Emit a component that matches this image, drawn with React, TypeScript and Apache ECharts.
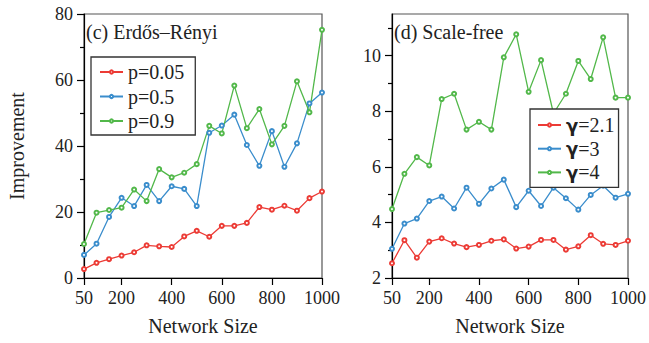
import React, { useEffect, useRef } from "react";
import * as echarts from "echarts";

const sizes = [50, 100, 150, 200, 250, 300, 350, 400, 450, 500, 550, 600, 650, 700, 750, 800, 850, 900, 950, 1000];

const erP005 = [2.7, 4.6, 5.7, 6.8, 7.8, 9.9, 9.6, 9.4, 12.6, 14.3, 12.5, 15.8, 15.8, 16.7, 21.5, 20.7, 21.9, 20.4, 24.2, 26.2];
const erP05 = [7.0, 10.4, 18.5, 24.3, 21.8, 28.2, 23.3, 27.8, 27.0, 21.8, 44.0, 46.2, 49.5, 40.3, 34.0, 44.5, 33.7, 40.8, 52.9, 56.2];
const erP09 = [10.3, 19.8, 20.6, 21.3, 26.8, 23.3, 33.0, 30.5, 31.9, 34.5, 46.1, 43.8, 58.3, 45.4, 51.2, 40.5, 46.1, 59.6, 50.2, 75.2];

const sfG21 = [2.53, 3.36, 2.73, 3.31, 3.43, 3.24, 3.11, 3.19, 3.34, 3.39, 3.06, 3.13, 3.37, 3.37, 3.02, 3.14, 3.54, 3.23, 3.19, 3.34];
const sfG3 = [3.05, 3.96, 4.14, 4.77, 4.93, 4.5, 5.25, 4.67, 5.22, 5.54, 4.55, 5.14, 4.59, 5.25, 4.87, 4.46, 4.99, 5.32, 4.89, 5.03];
const sfG4 = [4.48, 5.75, 6.35, 6.05, 8.44, 8.63, 7.34, 7.62, 7.34, 9.94, 10.77, 8.7, 9.84, 7.92, 8.63, 9.81, 9.16, 10.66, 8.49, 8.49];

const xTicks = [50, 200, 400, 600, 800, 1000];
const erYTicks = [0, 20, 40, 60, 80];
const erYMinor = [10, 30, 50, 70];
const sfYTicks = [2, 4, 6, 8, 10];
const sfYMinor = [3, 5, 7, 9, 11];

const erNames = ["p=0.05", "p=0.5", "p=0.9"];
const sfNames = ["γ=2.1", "γ=3", "γ=4"];

const RED = "#ec3b35";
const BLUE = "#3a8dcc";
const GREEN = "#52b84a";
const SERIF = "Liberation Serif";

const pairs = (vals: number[]) => sizes.map((s, i) => [s, vals[i]]);

export default function App() {
  const ref = useRef<HTMLDivElement>(null);
  useEffect(() => {
    if (!ref.current) return;
    const chart = echarts.init(ref.current, null, { renderer: "svg" });

    const xAxisBase = (gridIndex: number) => ({
      type: "value",
      gridIndex,
      position: "bottom",
      min: 50,
      max: 1000,
      interval: 50,
      splitLine: { show: false },
      axisLine: { show: true, lineStyle: { color: "#000", width: 1.2 } },
      axisTick: { show: true, customValues: xTicks, length: 7, lineStyle: { color: "#000", width: 1.2 } },
      axisLabel: { customValues: xTicks, margin: 11, fontFamily: SERIF, fontSize: 18, color: "#222", formatter: (v: number) => String(v) },
      name: "Network Size",
      nameLocation: "middle",
      nameGap: 38,
      nameTextStyle: { fontFamily: SERIF, fontSize: 20, color: "#222" },
    });

    const yMain = (gridIndex: number, min: number, max: number, ticks: number[], name?: string) => ({
      type: "value",
      gridIndex,
      position: "left",
      min,
      max,
      splitLine: { show: false },
      axisLine: { show: true, lineStyle: { color: "#000", width: 1.2 } },
      axisTick: { show: true, customValues: ticks, length: 7, lineStyle: { color: "#000", width: 1.2 } },
      axisLabel: { customValues: ticks, margin: 11, fontFamily: SERIF, fontSize: 18, color: "#222", formatter: (v: number) => String(v) },
      name: name ?? "",
      nameLocation: "middle",
      nameGap: 57,
      nameTextStyle: { fontFamily: SERIF, fontSize: 20, color: "#222" },
    });

    const yMinor = (gridIndex: number, min: number, max: number, ticks: number[]) => ({
      type: "value",
      gridIndex,
      position: "left",
      offset: 0,
      min,
      max,
      splitLine: { show: false },
      axisLine: { show: false },
      axisTick: { show: true, customValues: ticks, length: 4, lineStyle: { color: "#000", width: 1.2 } },
      axisLabel: { show: false },
    });

    const line = (name: string, color: string, vals: number[], xi: number, yi: number) => ({
      type: "line",
      name,
      xAxisIndex: xi,
      yAxisIndex: yi,
      data: pairs(vals),
      symbol: "emptyCircle",
      symbolSize: 4,
      lineStyle: { color, width: 1.3 },
      itemStyle: { color, borderColor: color, borderWidth: 1 },
    });

    const legendBase = {
      orient: "vertical",
      backgroundColor: "#fff",
      borderColor: "#333",
      borderWidth: 1.3,
      borderRadius: 0,
      itemWidth: 23,
      itemHeight: 4,
      selectedMode: false,
    };

    chart.setOption({
      animation: false,
      grid: [
        { left: 84, top: 14, width: 238, height: 264, show: true, borderColor: "#555", borderWidth: 1.2, backgroundColor: "transparent" },
        { left: 392, top: 14, width: 239, height: 264, show: true, borderColor: "#555", borderWidth: 1.2, backgroundColor: "transparent" },
      ],
      title: [
        { text: "(c) Erdős–Rényi", left: 86, top: 22, padding: 0, textStyle: { fontFamily: SERIF, fontSize: 20, fontWeight: "normal", color: "#222" } },
        { text: "(d) Scale-free", left: 394, top: 22, padding: 0, textStyle: { fontFamily: SERIF, fontSize: 20, fontWeight: "normal", color: "#222" } },
      ],
      legend: [
        {
          ...legendBase,
          data: erNames,
          left: 91,
          top: 57,
          padding: [5, 11, 4, 8],
          itemGap: 4.5,
          textStyle: { fontFamily: SERIF, fontSize: 20, lineHeight: 20, color: "#222" },
        },
        {
          ...legendBase,
          data: sfNames,
          left: 530,
          top: 109,
          padding: [6, 4, 5, 7],
          itemGap: 3.7,
          formatter: (n: string) => "{g|γ}{s|" + n.slice(1) + "}",
          textStyle: {
            fontFamily: SERIF,
            fontSize: 20,
            lineHeight: 20,
            color: "#222",
            rich: {
              g: { fontFamily: "DejaVu Sans", fontWeight: "bold", fontSize: 18, color: "#222" },
              s: { fontFamily: SERIF, fontSize: 20, color: "#222" },
            },
          },
        },
      ],
      xAxis: [xAxisBase(0), xAxisBase(1)],
      yAxis: [
        yMain(0, 0, 80, erYTicks, "Improvement"),
        yMinor(0, 0, 80, erYMinor),
        yMain(1, 2, 11.5, sfYTicks),
        yMinor(1, 2, 11.5, sfYMinor),
      ],
      series: [
        line(erNames[0], RED, erP005, 0, 0),
        line(erNames[1], BLUE, erP05, 0, 0),
        line(erNames[2], GREEN, erP09, 0, 0),
        line(sfNames[0], RED, sfG21, 1, 2),
        line(sfNames[1], BLUE, sfG3, 1, 2),
        line(sfNames[2], GREEN, sfG4, 1, 2),
      ],
    });
    return () => chart.dispose();
  }, []);
  return <div ref={ref} style={{ width: 649, height: 343, position: "absolute", left: 0, top: 0 }} />;
}
